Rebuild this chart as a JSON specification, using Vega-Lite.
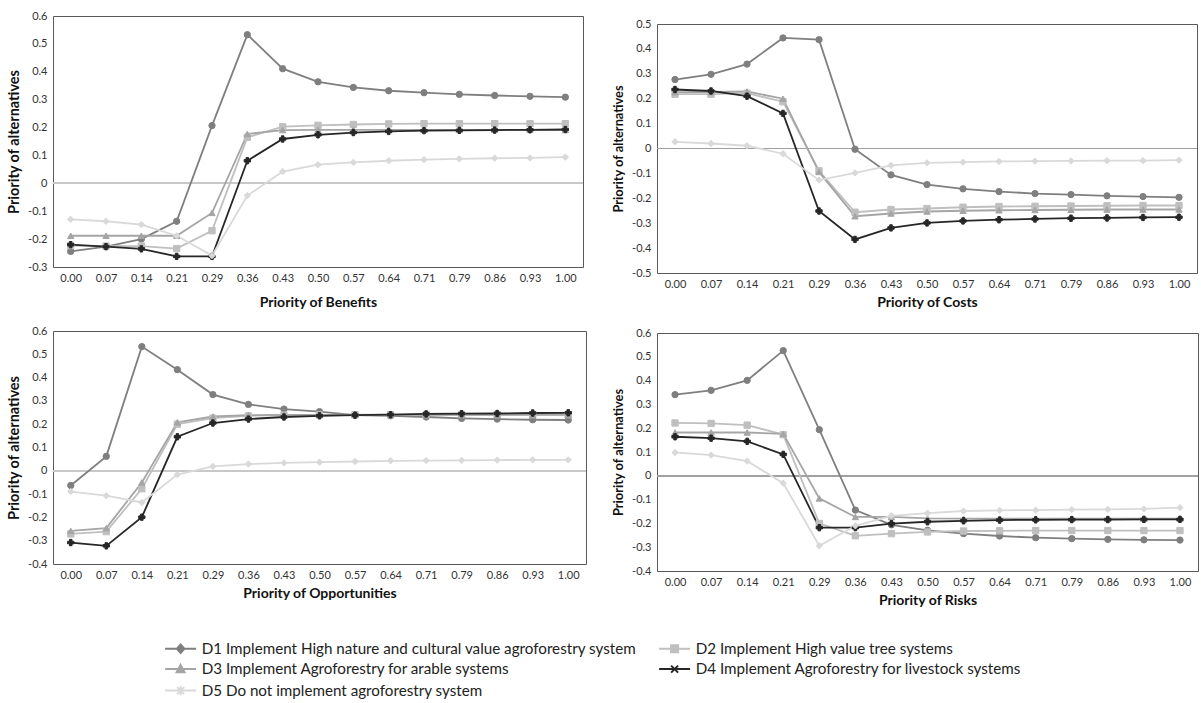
{
  "$schema": "https://vega.github.io/schema/vega-lite/v6.json",
  "padding": {"left": 6, "top": 9, "right": 5, "bottom": 5},
  "background": "white",
  "data": {"values": [
    {"p":"B","x":"0.00","s":"D1","v":-0.244},{"p":"B","x":"0.07","s":"D1","v":-0.227},{"p":"B","x":"0.14","s":"D1","v":-0.200},{"p":"B","x":"0.21","s":"D1","v":-0.136},{"p":"B","x":"0.29","s":"D1","v":0.207},{"p":"B","x":"0.36","s":"D1","v":0.533},{"p":"B","x":"0.43","s":"D1","v":0.411},{"p":"B","x":"0.50","s":"D1","v":0.364},{"p":"B","x":"0.57","s":"D1","v":0.344},{"p":"B","x":"0.64","s":"D1","v":0.332},{"p":"B","x":"0.71","s":"D1","v":0.325},{"p":"B","x":"0.79","s":"D1","v":0.319},{"p":"B","x":"0.86","s":"D1","v":0.315},{"p":"B","x":"0.93","s":"D1","v":0.312},{"p":"B","x":"1.00","s":"D1","v":0.309},
    {"p":"B","x":"0.00","s":"D2","v":-0.223},{"p":"B","x":"0.07","s":"D2","v":-0.225},{"p":"B","x":"0.14","s":"D2","v":-0.225},{"p":"B","x":"0.21","s":"D2","v":-0.234},{"p":"B","x":"0.29","s":"D2","v":-0.170},{"p":"B","x":"0.36","s":"D2","v":0.165},{"p":"B","x":"0.43","s":"D2","v":0.203},{"p":"B","x":"0.50","s":"D2","v":0.208},{"p":"B","x":"0.57","s":"D2","v":0.211},{"p":"B","x":"0.64","s":"D2","v":0.213},{"p":"B","x":"0.71","s":"D2","v":0.214},{"p":"B","x":"0.79","s":"D2","v":0.214},{"p":"B","x":"0.86","s":"D2","v":0.214},{"p":"B","x":"0.93","s":"D2","v":0.214},{"p":"B","x":"1.00","s":"D2","v":0.214},
    {"p":"B","x":"0.00","s":"D3","v":-0.188},{"p":"B","x":"0.07","s":"D3","v":-0.188},{"p":"B","x":"0.14","s":"D3","v":-0.188},{"p":"B","x":"0.21","s":"D3","v":-0.188},{"p":"B","x":"0.29","s":"D3","v":-0.106},{"p":"B","x":"0.36","s":"D3","v":0.177},{"p":"B","x":"0.43","s":"D3","v":0.191},{"p":"B","x":"0.50","s":"D3","v":0.192},{"p":"B","x":"0.57","s":"D3","v":0.192},{"p":"B","x":"0.64","s":"D3","v":0.192},{"p":"B","x":"0.71","s":"D3","v":0.192},{"p":"B","x":"0.79","s":"D3","v":0.192},{"p":"B","x":"0.86","s":"D3","v":0.192},{"p":"B","x":"0.93","s":"D3","v":0.192},{"p":"B","x":"1.00","s":"D3","v":0.191},
    {"p":"B","x":"0.00","s":"D4","v":-0.220},{"p":"B","x":"0.07","s":"D4","v":-0.227},{"p":"B","x":"0.14","s":"D4","v":-0.235},{"p":"B","x":"0.21","s":"D4","v":-0.262},{"p":"B","x":"0.29","s":"D4","v":-0.262},{"p":"B","x":"0.36","s":"D4","v":0.081},{"p":"B","x":"0.43","s":"D4","v":0.159},{"p":"B","x":"0.50","s":"D4","v":0.174},{"p":"B","x":"0.57","s":"D4","v":0.182},{"p":"B","x":"0.64","s":"D4","v":0.186},{"p":"B","x":"0.71","s":"D4","v":0.189},{"p":"B","x":"0.79","s":"D4","v":0.190},{"p":"B","x":"0.86","s":"D4","v":0.191},{"p":"B","x":"0.93","s":"D4","v":0.192},{"p":"B","x":"1.00","s":"D4","v":0.193},
    {"p":"B","x":"0.00","s":"D5","v":-0.129},{"p":"B","x":"0.07","s":"D5","v":-0.136},{"p":"B","x":"0.14","s":"D5","v":-0.148},{"p":"B","x":"0.21","s":"D5","v":-0.188},{"p":"B","x":"0.29","s":"D5","v":-0.259},{"p":"B","x":"0.36","s":"D5","v":-0.044},{"p":"B","x":"0.43","s":"D5","v":0.042},{"p":"B","x":"0.50","s":"D5","v":0.067},{"p":"B","x":"0.57","s":"D5","v":0.075},{"p":"B","x":"0.64","s":"D5","v":0.081},{"p":"B","x":"0.71","s":"D5","v":0.085},{"p":"B","x":"0.79","s":"D5","v":0.088},{"p":"B","x":"0.86","s":"D5","v":0.090},{"p":"B","x":"0.93","s":"D5","v":0.091},{"p":"B","x":"1.00","s":"D5","v":0.094},

    {"p":"C","x":"0.00","s":"D1","v":0.277},{"p":"C","x":"0.07","s":"D1","v":0.298},{"p":"C","x":"0.14","s":"D1","v":0.339},{"p":"C","x":"0.21","s":"D1","v":0.444},{"p":"C","x":"0.29","s":"D1","v":0.437},{"p":"C","x":"0.36","s":"D1","v":-0.003},{"p":"C","x":"0.43","s":"D1","v":-0.106},{"p":"C","x":"0.50","s":"D1","v":-0.145},{"p":"C","x":"0.57","s":"D1","v":-0.162},{"p":"C","x":"0.64","s":"D1","v":-0.173},{"p":"C","x":"0.71","s":"D1","v":-0.181},{"p":"C","x":"0.79","s":"D1","v":-0.185},{"p":"C","x":"0.86","s":"D1","v":-0.190},{"p":"C","x":"0.93","s":"D1","v":-0.193},{"p":"C","x":"1.00","s":"D1","v":-0.196},
    {"p":"C","x":"0.00","s":"D2","v":0.218},{"p":"C","x":"0.07","s":"D2","v":0.218},{"p":"C","x":"0.14","s":"D2","v":0.222},{"p":"C","x":"0.21","s":"D2","v":0.188},{"p":"C","x":"0.29","s":"D2","v":-0.090},{"p":"C","x":"0.36","s":"D2","v":-0.256},{"p":"C","x":"0.43","s":"D2","v":-0.245},{"p":"C","x":"0.50","s":"D2","v":-0.241},{"p":"C","x":"0.57","s":"D2","v":-0.236},{"p":"C","x":"0.64","s":"D2","v":-0.233},{"p":"C","x":"0.71","s":"D2","v":-0.232},{"p":"C","x":"0.79","s":"D2","v":-0.231},{"p":"C","x":"0.86","s":"D2","v":-0.230},{"p":"C","x":"0.93","s":"D2","v":-0.229},{"p":"C","x":"1.00","s":"D2","v":-0.229},
    {"p":"C","x":"0.00","s":"D3","v":0.226},{"p":"C","x":"0.07","s":"D3","v":0.227},{"p":"C","x":"0.14","s":"D3","v":0.229},{"p":"C","x":"0.21","s":"D3","v":0.200},{"p":"C","x":"0.29","s":"D3","v":-0.094},{"p":"C","x":"0.36","s":"D3","v":-0.272},{"p":"C","x":"0.43","s":"D3","v":-0.261},{"p":"C","x":"0.50","s":"D3","v":-0.253},{"p":"C","x":"0.57","s":"D3","v":-0.250},{"p":"C","x":"0.64","s":"D3","v":-0.248},{"p":"C","x":"0.71","s":"D3","v":-0.247},{"p":"C","x":"0.79","s":"D3","v":-0.246},{"p":"C","x":"0.86","s":"D3","v":-0.245},{"p":"C","x":"0.93","s":"D3","v":-0.245},{"p":"C","x":"1.00","s":"D3","v":-0.245},
    {"p":"C","x":"0.00","s":"D4","v":0.237},{"p":"C","x":"0.07","s":"D4","v":0.231},{"p":"C","x":"0.14","s":"D4","v":0.210},{"p":"C","x":"0.21","s":"D4","v":0.141},{"p":"C","x":"0.29","s":"D4","v":-0.251},{"p":"C","x":"0.36","s":"D4","v":-0.365},{"p":"C","x":"0.43","s":"D4","v":-0.319},{"p":"C","x":"0.50","s":"D4","v":-0.299},{"p":"C","x":"0.57","s":"D4","v":-0.291},{"p":"C","x":"0.64","s":"D4","v":-0.286},{"p":"C","x":"0.71","s":"D4","v":-0.283},{"p":"C","x":"0.79","s":"D4","v":-0.280},{"p":"C","x":"0.86","s":"D4","v":-0.279},{"p":"C","x":"0.93","s":"D4","v":-0.277},{"p":"C","x":"1.00","s":"D4","v":-0.276},
    {"p":"C","x":"0.00","s":"D5","v":0.027},{"p":"C","x":"0.07","s":"D5","v":0.020},{"p":"C","x":"0.14","s":"D5","v":0.011},{"p":"C","x":"0.21","s":"D5","v":-0.021},{"p":"C","x":"0.29","s":"D5","v":-0.127},{"p":"C","x":"0.36","s":"D5","v":-0.098},{"p":"C","x":"0.43","s":"D5","v":-0.068},{"p":"C","x":"0.50","s":"D5","v":-0.058},{"p":"C","x":"0.57","s":"D5","v":-0.055},{"p":"C","x":"0.64","s":"D5","v":-0.052},{"p":"C","x":"0.71","s":"D5","v":-0.051},{"p":"C","x":"0.79","s":"D5","v":-0.050},{"p":"C","x":"0.86","s":"D5","v":-0.049},{"p":"C","x":"0.93","s":"D5","v":-0.049},{"p":"C","x":"1.00","s":"D5","v":-0.047},

    {"p":"O","x":"0.00","s":"D1","v":-0.063},{"p":"O","x":"0.07","s":"D1","v":0.062},{"p":"O","x":"0.14","s":"D1","v":0.533},{"p":"O","x":"0.21","s":"D1","v":0.434},{"p":"O","x":"0.29","s":"D1","v":0.327},{"p":"O","x":"0.36","s":"D1","v":0.285},{"p":"O","x":"0.43","s":"D1","v":0.265},{"p":"O","x":"0.50","s":"D1","v":0.254},{"p":"O","x":"0.57","s":"D1","v":0.239},{"p":"O","x":"0.64","s":"D1","v":0.236},{"p":"O","x":"0.71","s":"D1","v":0.231},{"p":"O","x":"0.79","s":"D1","v":0.225},{"p":"O","x":"0.86","s":"D1","v":0.222},{"p":"O","x":"0.93","s":"D1","v":0.219},{"p":"O","x":"1.00","s":"D1","v":0.218},
    {"p":"O","x":"0.00","s":"D2","v":-0.271},{"p":"O","x":"0.07","s":"D2","v":-0.261},{"p":"O","x":"0.14","s":"D2","v":-0.077},{"p":"O","x":"0.21","s":"D2","v":0.200},{"p":"O","x":"0.29","s":"D2","v":0.226},{"p":"O","x":"0.36","s":"D2","v":0.236},{"p":"O","x":"0.43","s":"D2","v":0.239},{"p":"O","x":"0.50","s":"D2","v":0.240},{"p":"O","x":"0.57","s":"D2","v":0.241},{"p":"O","x":"0.64","s":"D2","v":0.241},{"p":"O","x":"0.71","s":"D2","v":0.241},{"p":"O","x":"0.79","s":"D2","v":0.241},{"p":"O","x":"0.86","s":"D2","v":0.241},{"p":"O","x":"0.93","s":"D2","v":0.241},{"p":"O","x":"1.00","s":"D2","v":0.241},
    {"p":"O","x":"0.00","s":"D3","v":-0.258},{"p":"O","x":"0.07","s":"D3","v":-0.246},{"p":"O","x":"0.14","s":"D3","v":-0.050},{"p":"O","x":"0.21","s":"D3","v":0.208},{"p":"O","x":"0.29","s":"D3","v":0.233},{"p":"O","x":"0.36","s":"D3","v":0.239},{"p":"O","x":"0.43","s":"D3","v":0.240},{"p":"O","x":"0.50","s":"D3","v":0.240},{"p":"O","x":"0.57","s":"D3","v":0.240},{"p":"O","x":"0.64","s":"D3","v":0.240},{"p":"O","x":"0.71","s":"D3","v":0.240},{"p":"O","x":"0.79","s":"D3","v":0.240},{"p":"O","x":"0.86","s":"D3","v":0.240},{"p":"O","x":"0.93","s":"D3","v":0.240},{"p":"O","x":"1.00","s":"D3","v":0.240},
    {"p":"O","x":"0.00","s":"D4","v":-0.308},{"p":"O","x":"0.07","s":"D4","v":-0.322},{"p":"O","x":"0.14","s":"D4","v":-0.199},{"p":"O","x":"0.21","s":"D4","v":0.146},{"p":"O","x":"0.29","s":"D4","v":0.205},{"p":"O","x":"0.36","s":"D4","v":0.222},{"p":"O","x":"0.43","s":"D4","v":0.231},{"p":"O","x":"0.50","s":"D4","v":0.236},{"p":"O","x":"0.57","s":"D4","v":0.239},{"p":"O","x":"0.64","s":"D4","v":0.241},{"p":"O","x":"0.71","s":"D4","v":0.244},{"p":"O","x":"0.79","s":"D4","v":0.245},{"p":"O","x":"0.86","s":"D4","v":0.246},{"p":"O","x":"0.93","s":"D4","v":0.248},{"p":"O","x":"1.00","s":"D4","v":0.249},
    {"p":"O","x":"0.00","s":"D5","v":-0.089},{"p":"O","x":"0.07","s":"D5","v":-0.107},{"p":"O","x":"0.14","s":"D5","v":-0.136},{"p":"O","x":"0.21","s":"D5","v":-0.016},{"p":"O","x":"0.29","s":"D5","v":0.019},{"p":"O","x":"0.36","s":"D5","v":0.029},{"p":"O","x":"0.43","s":"D5","v":0.034},{"p":"O","x":"0.50","s":"D5","v":0.037},{"p":"O","x":"0.57","s":"D5","v":0.040},{"p":"O","x":"0.64","s":"D5","v":0.043},{"p":"O","x":"0.71","s":"D5","v":0.044},{"p":"O","x":"0.79","s":"D5","v":0.045},{"p":"O","x":"0.86","s":"D5","v":0.046},{"p":"O","x":"0.93","s":"D5","v":0.047},{"p":"O","x":"1.00","s":"D5","v":0.047},

    {"p":"R","x":"0.00","s":"D1","v":0.341},{"p":"R","x":"0.07","s":"D1","v":0.359},{"p":"R","x":"0.14","s":"D1","v":0.401},{"p":"R","x":"0.21","s":"D1","v":0.526},{"p":"R","x":"0.29","s":"D1","v":0.194},{"p":"R","x":"0.36","s":"D1","v":-0.144},{"p":"R","x":"0.43","s":"D1","v":-0.206},{"p":"R","x":"0.50","s":"D1","v":-0.229},{"p":"R","x":"0.57","s":"D1","v":-0.243},{"p":"R","x":"0.64","s":"D1","v":-0.253},{"p":"R","x":"0.71","s":"D1","v":-0.260},{"p":"R","x":"0.79","s":"D1","v":-0.264},{"p":"R","x":"0.86","s":"D1","v":-0.267},{"p":"R","x":"0.93","s":"D1","v":-0.269},{"p":"R","x":"1.00","s":"D1","v":-0.270},
    {"p":"R","x":"0.00","s":"D2","v":0.222},{"p":"R","x":"0.07","s":"D2","v":0.220},{"p":"R","x":"0.14","s":"D2","v":0.213},{"p":"R","x":"0.21","s":"D2","v":0.173},{"p":"R","x":"0.29","s":"D2","v":-0.200},{"p":"R","x":"0.36","s":"D2","v":-0.252},{"p":"R","x":"0.43","s":"D2","v":-0.243},{"p":"R","x":"0.50","s":"D2","v":-0.236},{"p":"R","x":"0.57","s":"D2","v":-0.232},{"p":"R","x":"0.64","s":"D2","v":-0.231},{"p":"R","x":"0.71","s":"D2","v":-0.230},{"p":"R","x":"0.79","s":"D2","v":-0.230},{"p":"R","x":"0.86","s":"D2","v":-0.230},{"p":"R","x":"0.93","s":"D2","v":-0.230},{"p":"R","x":"1.00","s":"D2","v":-0.230},
    {"p":"R","x":"0.00","s":"D3","v":0.182},{"p":"R","x":"0.07","s":"D3","v":0.182},{"p":"R","x":"0.14","s":"D3","v":0.182},{"p":"R","x":"0.21","s":"D3","v":0.176},{"p":"R","x":"0.29","s":"D3","v":-0.095},{"p":"R","x":"0.36","s":"D3","v":-0.173},{"p":"R","x":"0.43","s":"D3","v":-0.173},{"p":"R","x":"0.50","s":"D3","v":-0.179},{"p":"R","x":"0.57","s":"D3","v":-0.180},{"p":"R","x":"0.64","s":"D3","v":-0.180},{"p":"R","x":"0.71","s":"D3","v":-0.180},{"p":"R","x":"0.79","s":"D3","v":-0.180},{"p":"R","x":"0.86","s":"D3","v":-0.180},{"p":"R","x":"0.93","s":"D3","v":-0.180},{"p":"R","x":"1.00","s":"D3","v":-0.180},
    {"p":"R","x":"0.00","s":"D4","v":0.164},{"p":"R","x":"0.07","s":"D4","v":0.158},{"p":"R","x":"0.14","s":"D4","v":0.145},{"p":"R","x":"0.21","s":"D4","v":0.090},{"p":"R","x":"0.29","s":"D4","v":-0.218},{"p":"R","x":"0.36","s":"D4","v":-0.218},{"p":"R","x":"0.43","s":"D4","v":-0.201},{"p":"R","x":"0.50","s":"D4","v":-0.193},{"p":"R","x":"0.57","s":"D4","v":-0.189},{"p":"R","x":"0.64","s":"D4","v":-0.186},{"p":"R","x":"0.71","s":"D4","v":-0.185},{"p":"R","x":"0.79","s":"D4","v":-0.184},{"p":"R","x":"0.86","s":"D4","v":-0.184},{"p":"R","x":"0.93","s":"D4","v":-0.183},{"p":"R","x":"1.00","s":"D4","v":-0.183},
    {"p":"R","x":"0.00","s":"D5","v":0.098},{"p":"R","x":"0.07","s":"D5","v":0.087},{"p":"R","x":"0.14","s":"D5","v":0.062},{"p":"R","x":"0.21","s":"D5","v":-0.031},{"p":"R","x":"0.29","s":"D5","v":-0.294},{"p":"R","x":"0.36","s":"D5","v":-0.210},{"p":"R","x":"0.43","s":"D5","v":-0.168},{"p":"R","x":"0.50","s":"D5","v":-0.157},{"p":"R","x":"0.57","s":"D5","v":-0.148},{"p":"R","x":"0.64","s":"D5","v":-0.145},{"p":"R","x":"0.71","s":"D5","v":-0.144},{"p":"R","x":"0.79","s":"D5","v":-0.142},{"p":"R","x":"0.86","s":"D5","v":-0.141},{"p":"R","x":"0.93","s":"D5","v":-0.139},{"p":"R","x":"1.00","s":"D5","v":-0.134}
  ]},
  "spacing": 24,
  "hconcat": [
    {
      "spacing": 14,
      "vconcat": [
        {
          "width": 530, "height": 251,
          "transform": [{"filter": "datum.p == 'B'"}],
          "layer": [
            {"mark": {"type": "rule", "color": "#c8c8c8", "strokeWidth": 1.5}, "encoding": {"y": {"datum": 0, "type": "quantitative"}}},
            {"mark": {"type": "line", "strokeWidth": 1.8},
             "encoding": {
               "x": {"field": "x", "type": "ordinal", "scale": {"type": "point", "padding": 0.5}, "axis": {"title": "Priority of Benefits", "titlePadding": 12}},
               "y": {"field": "v", "type": "quantitative", "scale": {"domain": [-0.3, 0.6], "nice": false, "zero": false}, "axis": {"title": "Priority of alternatives", "tickCount": 30, "values": [-0.3,-0.2,-0.1,0,0.1,0.2,0.3,0.4,0.5,0.6]}},
               "color": {"field": "s", "type": "nominal", "legend": {"orient": "none", "legendX": 120, "legendY": 625, "columns": 2, "direction": "horizontal", "title": null, "labelExpr": "datum.value == 'D1' ? 'D1 Implement High nature and cultural value agroforestry system' : datum.value == 'D2' ? 'D2 Implement High value tree systems' : datum.value == 'D3' ? 'D3 Implement Agroforestry for arable systems' : datum.value == 'D4' ? 'D4 Implement Agroforestry for livestock systems' : 'D5 Do not implement agroforestry system'", "encode": {"symbols": {"update": {"shape": {"signal": "datum.value=='D1' ? 'M-3.1,0L3.1,0M0,-0.85L0.75,0L0,0.85L-0.75,0Z' : datum.value=='D2' ? 'M-3.1,0L3.1,0M-0.7,-0.7H0.7V0.7H-0.7Z' : datum.value=='D3' ? 'M-3.1,0L3.1,0M0,-0.85L0.8,0.65H-0.8Z' : datum.value=='D4' ? 'M-3.1,0L3.1,0M-0.7,-0.7L0.7,0.7M-0.7,0.7L0.7,-0.7' : 'M-3.1,0L3.1,0M-0.7,-0.7L0.7,0.7M-0.7,0.7L0.7,-0.7M0,-0.95L0,0.95'"}, "stroke": {"signal": "scale('color', datum.value)"}, "fill": {"signal": "scale('color', datum.value)"}, "strokeWidth": {"value": 2}, "opacity": {"value": 1}, "fillOpacity": {"value": 1}}}}}}
             }},
            {"mark": {"type": "point", "filled": true, "size": 40, "opacity": 1, "strokeWidth": 1},
             "encoding": {
               "x": {"field": "x", "type": "ordinal"},
               "y": {"field": "v", "type": "quantitative"},
               "color": {"field": "s", "type": "nominal"},
               "stroke": {"field": "s", "type": "nominal", "scale": {"domain": ["D1","D2","D3","D4","D5"], "range": ["#7f7f7f","#bfbfbf","#a5a5a5","#262626","#d9d9d9"]}, "legend": null},
               "shape": {"field": "s", "type": "nominal", "legend": null}
             }}
          ]
        },
        {
          "width": 533, "height": 233,
          "transform": [{"filter": "datum.p == 'O'"}],
          "layer": [
            {"mark": {"type": "rule", "color": "#c8c8c8", "strokeWidth": 1.5}, "encoding": {"y": {"datum": 0, "type": "quantitative"}}},
            {"mark": {"type": "line", "strokeWidth": 1.8},
             "encoding": {
               "x": {"field": "x", "type": "ordinal", "scale": {"type": "point", "padding": 0.5}, "axis": {"title": "Priority of Opportunities", "titlePadding": 6}},
               "y": {"field": "v", "type": "quantitative", "scale": {"domain": [-0.4, 0.6], "nice": false, "zero": false}, "axis": {"title": "Priority of alternatives", "tickCount": 30, "values": [-0.4,-0.3,-0.2,-0.1,0,0.1,0.2,0.3,0.4,0.5,0.6]}},
               "color": {"field": "s", "type": "nominal"}
             }},
            {"mark": {"type": "point", "filled": true, "size": 40, "opacity": 1, "strokeWidth": 1},
             "encoding": {
               "x": {"field": "x", "type": "ordinal"},
               "y": {"field": "v", "type": "quantitative"},
               "color": {"field": "s", "type": "nominal"},
               "stroke": {"field": "s", "type": "nominal", "scale": {"domain": ["D1","D2","D3","D4","D5"], "range": ["#7f7f7f","#bfbfbf","#a5a5a5","#262626","#d9d9d9"]}, "legend": null},
               "shape": {"field": "s", "type": "nominal", "legend": null}
             }}
          ]
        }
      ]
    },
    {
      "spacing": 16,
      "vconcat": [
        {
          "spacing": 0,
          "vconcat": [
            {
              "width": 540, "height": 1,
              "view": {"stroke": null},
              "transform": [{"filter": "false"}],
              "mark": {"type": "point", "opacity": 0},
              "encoding": {}
            },
            {
              "width": 540, "height": 249,
              "transform": [{"filter": "datum.p == 'C'"}],
              "layer": [
                {"mark": {"type": "rule", "color": "#a0a0a0", "strokeWidth": 1.2}, "encoding": {"y": {"datum": 0, "type": "quantitative"}}},
                {"mark": {"type": "line", "strokeWidth": 1.8},
                 "encoding": {
                   "x": {"field": "x", "type": "ordinal", "scale": {"type": "point", "padding": 0.5}, "axis": {"title": "Priority of Costs", "titlePadding": 6}},
                   "y": {"field": "v", "type": "quantitative", "scale": {"domain": [-0.5, 0.5], "nice": false, "zero": false}, "axis": {"title": "Priority of alternatives", "tickCount": 30, "titleFontSize": 12.8, "values": [-0.5,-0.4,-0.3,-0.2,-0.1,0,0.1,0.2,0.3,0.4,0.5]}},
                   "color": {"field": "s", "type": "nominal"}
                 }},
                {"mark": {"type": "point", "filled": true, "size": 40, "opacity": 1, "strokeWidth": 1},
                 "encoding": {
                   "x": {"field": "x", "type": "ordinal"},
                   "y": {"field": "v", "type": "quantitative"},
                   "color": {"field": "s", "type": "nominal"},
                   "stroke": {"field": "s", "type": "nominal", "scale": {"domain": ["D1","D2","D3","D4","D5"], "range": ["#7f7f7f","#bfbfbf","#a5a5a5","#262626","#d9d9d9"]}, "legend": null},
                   "shape": {"field": "s", "type": "nominal", "legend": null}
                 }}
              ]
            }
          ]
        },
        {
          "width": 541, "height": 238,
          "transform": [{"filter": "datum.p == 'R'"}],
          "layer": [
            {"mark": {"type": "rule", "color": "#a0a0a0", "strokeWidth": 1.2}, "encoding": {"y": {"datum": 0, "type": "quantitative"}}},
            {"mark": {"type": "line", "strokeWidth": 1.8},
             "encoding": {
               "x": {"field": "x", "type": "ordinal", "scale": {"type": "point", "padding": 0.5}, "axis": {"title": "Priority of Risks", "titlePadding": 6}},
               "y": {"field": "v", "type": "quantitative", "scale": {"domain": [-0.4, 0.6], "nice": false, "zero": false}, "axis": {"title": "Priority of alternatives", "tickCount": 30, "titleFontSize": 12.8, "values": [-0.4,-0.3,-0.2,-0.1,0,0.1,0.2,0.3,0.4,0.5,0.6]}},
               "color": {"field": "s", "type": "nominal"}
             }},
            {"mark": {"type": "point", "filled": true, "size": 40, "opacity": 1, "strokeWidth": 1},
             "encoding": {
               "x": {"field": "x", "type": "ordinal"},
               "y": {"field": "v", "type": "quantitative"},
               "color": {"field": "s", "type": "nominal"},
               "stroke": {"field": "s", "type": "nominal", "scale": {"domain": ["D1","D2","D3","D4","D5"], "range": ["#7f7f7f","#bfbfbf","#a5a5a5","#262626","#d9d9d9"]}, "legend": null},
               "shape": {"field": "s", "type": "nominal", "legend": null}
             }}
          ]
        }
      ]
    }
  ],
  "config": {
    "font": "Lato",
    "view": {"stroke": "#595959", "strokeWidth": 1},
    "axis": {"grid": false, "domain": false, "ticks": false, "tickSize": 0, "labelFontSize": 11, "labelColor": "#333333", "labelPadding": 6, "labelOverlap": false, "labelFlush": false, "titleFontSize": 14, "titleFontWeight": "bold", "titleColor": "#111111", "titlePadding": 6},
    "axisX": {"labelAngle": 0, "labelPadding": 5},
    "axisY": {"titleFontSize": 14.5, "labelExpr": "datum.value == 0 ? '0' : (datum.value < 0 ? '-' : '') + format(abs(datum.value), '.1f')"},
    "range": {
      "category": ["#7f7f7f","#bfbfbf","#a5a5a5","#262626","#d9d9d9"],
      "shape": ["M0,-1.25L1.05,0L0,1.25L-1.05,0Z","M-1,-1H1V1H-1Z","M0,-1.25L1.15,0.95H-1.15Z","M-1.2,-1.2L1.2,1.2M-1.2,1.2L1.2,-1.2","M-1.1,-1.1L1.1,1.1M-1.1,1.1L1.1,-1.1M0,-1.4L0,1.4"]
    },
    "legend": {
      "labelFontSize": 15.2, "labelColor": "#222222", "labelLimit": 800, "symbolSize": 100, "rowPadding": 3.5, "columnPadding": 18, "labelOffset": 13.5, "symbolStrokeWidth": 2
    }
  },
  "resolve": {"scale": {"color": "shared", "shape": "shared", "stroke": "shared"}}
}
